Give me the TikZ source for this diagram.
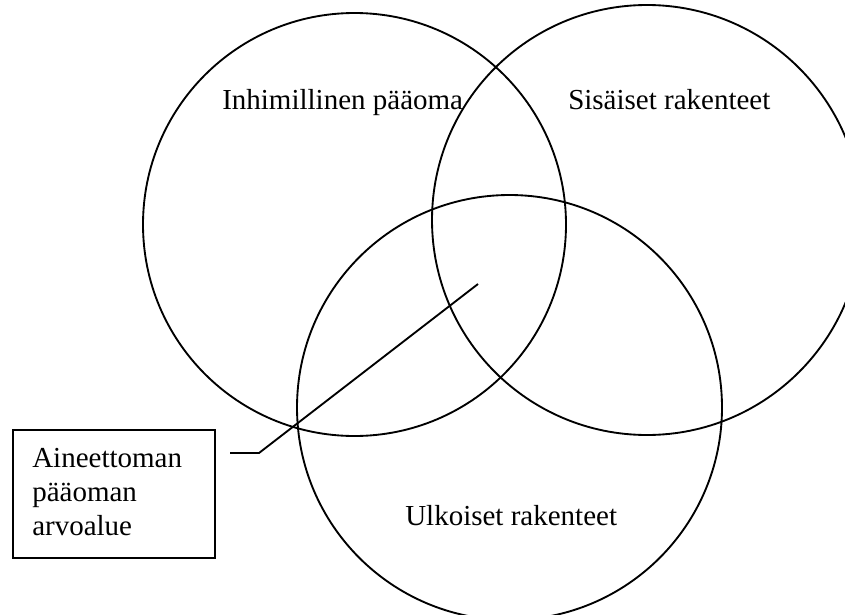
\documentclass[tikz,border=0pt]{standalone}
\usepackage{fontspec}
\setmainfont{Liberation Serif}
\begin{document}
\begin{tikzpicture}[x=0.75pt,y=-0.75pt,
  ring/.style={draw=black,line width=1.4pt},
  lbl/.style={anchor=base west,inner sep=0pt,font=\fontsize{21.75pt}{25.5pt}\selectfont},
  frame/.style={draw=black,line width=1.4pt,anchor=north west,inner sep=0pt,
    minimum width=151.5pt,minimum height=96pt},
  leader/.style={draw=black,line width=1.4pt}]
\useasboundingbox (0,0) rectangle (845,614);
\clip (0,0) rectangle (845,614);

% three overlapping circles
\node[ring,circle,minimum size=317.25pt,inner sep=0pt] (human) at (354.5,224.5) {};
\node[ring,circle,minimum size=322.5pt,inner sep=0pt] (internal) at (647,220) {};
\node[ring,circle,minimum size=318.75pt,inner sep=0pt] (external) at (509.5,407.5) {};

% circle captions
\node[lbl] (thuman) at (222,109) {Inhimillinen pääoma};
\node[lbl] (tinternal) at (568,109) {Sisäiset rakenteet};
\node[lbl] (texternal) at (405,525) {Ulkoiset rakenteet};

% callout box
\node[frame] (box) at (12,429) {};
\node[lbl] (b1) at (32,467) {Aineettoman};
\node[lbl] (b2) at (32,501) {pääoman};
\node[lbl] (b3) at (32,535) {arvoalue};

% leader line into the common area
\coordinate (lstart) at (230,453);
\coordinate (lbend) at (259,453);
\coordinate (ltip) at (478,284);
\draw[leader] (lstart) -- (lbend) -- (ltip);
\end{tikzpicture}
\end{document}
